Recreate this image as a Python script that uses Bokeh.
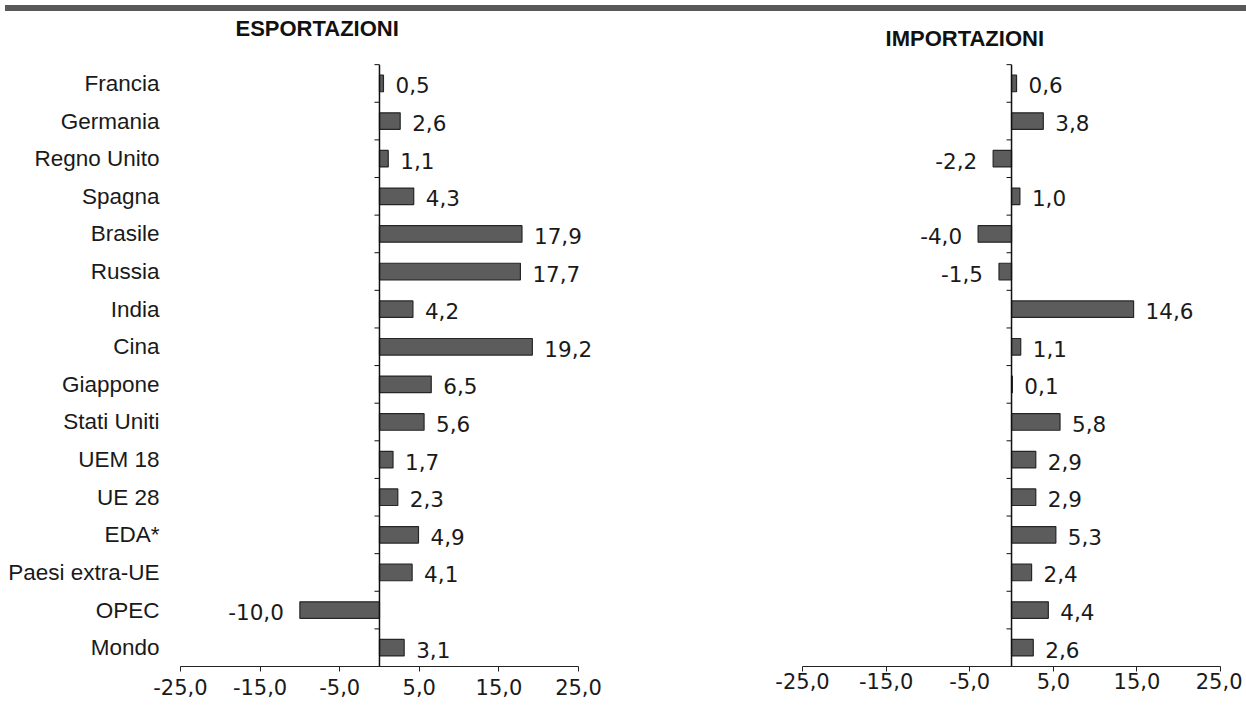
from bokeh.plotting import figure
from bokeh.models import Range1d, FixedTicker, ColumnDataSource, Div
from bokeh.layouts import row, column
from bokeh.core.properties import value
from bokeh.embed import file_html
from bokeh.resources import INLINE

categories = ["Francia", "Germania", "Regno Unito", "Spagna", "Brasile", "Russia",
              "India", "Cina", "Giappone", "Stati Uniti", "UEM 18", "UE 28", "EDA*",
              "Paesi extra-UE", "OPEC", "Mondo"]
esportazioni = [0.5, 2.6, 1.1, 4.3, 17.9, 17.7, 4.2, 19.2, 6.5, 5.6, 1.7, 2.3, 4.9, 4.1, -10.0, 3.1]
importazioni = [0.6, 3.8, -2.2, 1.0, -4.0, -1.5, 14.6, 1.1, 0.1, 5.8, 2.9, 2.9, 5.3, 2.4, 4.4, 2.6]
x_ticks = [-25, -15, -5, 5, 15, 25]
x_tick_labels = ["-25,0", "-15,0", "-5,0", "5,0", "15,0", "25,0"]
titles = ["ESPORTAZIONI", "IMPORTAZIONI"]

N = len(categories)
ypos = [N - 1 - i for i in range(N)]

BAR_FILL = "#5c5c5c"
BAR_LINE = "#262626"
LAB_FONT = "DejaVu Sans"
CAT_FONT = "Liberation Sans"

Y_TOP = N - 1 + 1.78      # space above the rows for the panel titles
FIG_H = 689


def fmt(v):
    return f"{v:.1f}".replace(".", ",")


def make_panel(vals, title, width, xr, mb, px_per_unit, title_x_px, title_y,
               tick_standoff, show_cats):
    p = figure(width=width, height=FIG_H, x_range=Range1d(*xr), y_range=Range1d(-0.5, Y_TOP),
               output_backend="svg", toolbar_location=None,
               min_border_left=mb[0], min_border_right=mb[1], min_border_top=0,
               min_border_bottom=39)
    p.outline_line_color = None
    p.xgrid.visible = False
    p.ygrid.visible = False
    p.background_fill_color = "white"
    p.border_fill_color = "white"

    src = ColumnDataSource(dict(y=ypos, v=vals, lab=[fmt(v) for v in vals]))
    p.hbar(y="y", left=0, right="v", height=0.44, source=src,
           fill_color=BAR_FILL, line_color=BAR_LINE, line_width=1.2)

    pos = ColumnDataSource(dict(y=[y for y, v in zip(ypos, vals) if v >= 0],
                                v=[v for v in vals if v >= 0],
                                lab=[fmt(v) for v in vals if v >= 0]))
    neg = ColumnDataSource(dict(y=[y for y, v in zip(ypos, vals) if v < 0],
                                v=[v for v in vals if v < 0],
                                lab=[fmt(v) for v in vals if v < 0]))
    common = dict(text="lab", text_font=value(LAB_FONT), text_font_size="21.5px",
                  text_color="#1a1a1a", text_baseline="middle")
    p.text(x="v", y="y", source=pos, x_offset=12, y_offset=2, text_align="left", **common)
    p.text(x="v", y="y", source=neg, x_offset=-16, y_offset=2, text_align="right", **common)

    # vertical zero axis with small ticks between categories
    p.segment(x0=[0], x1=[0], y0=[-0.5], y1=[N - 0.5], line_color="#111111", line_width=1.5)
    tick_len = 5.0 / px_per_unit
    bnd = [k + 0.5 for k in range(-1, N)]
    p.segment(x0=[-tick_len] * len(bnd), x1=[0] * len(bnd), y0=bnd, y1=bnd,
              line_color="#111111", line_width=1)

    # panel title
    p.text(x=[title_x_px / px_per_unit], y=[title_y], text=[title],
           text_font=value(CAT_FONT), text_font_style="bold", text_font_size="22px",
           text_color="#111111", text_align="left", text_baseline="middle")

    xa = p.xaxis[0]
    xa.bounds = (x_ticks[0], x_ticks[-1])
    xa.ticker = FixedTicker(ticks=x_ticks)
    xa.major_label_overrides = {t: l for t, l in zip(x_ticks, x_tick_labels)}
    xa.minor_tick_line_color = None
    xa.major_tick_in = 0
    xa.major_tick_out = 5
    xa.axis_line_color = "#222222"
    xa.axis_line_width = 1.2
    xa.major_tick_line_color = "#222222"
    xa.major_label_text_font = LAB_FONT
    xa.major_label_text_font_size = "21px"
    xa.major_label_text_color = "#1a1a1a"
    xa.major_label_standoff = tick_standoff

    ya = p.yaxis[0]
    if show_cats:
        ya.ticker = FixedTicker(ticks=ypos)
        ya.major_label_overrides = {y: c for y, c in zip(ypos, categories)}
        ya.minor_tick_line_color = None
        ya.major_tick_line_color = None
        ya.major_tick_out = 0
        ya.major_tick_in = 0
        ya.axis_line_color = None
        ya.major_label_text_font = CAT_FONT
        ya.major_label_text_font_size = "22.5px"
        ya.major_label_text_color = "#1a1a1a"
        ya.major_label_standoff = 13
    else:
        ya.visible = False
    return p


# left panel: zero at page x~379, 7.96 px/unit
left = make_panel(esportazioni, titles[0], 615, (-26.0, 29.27), (172, 3), 7.96,
                  -144, N - 1 + 1.46, 7, True)
# right panel: zero at page x~1011, 8.36 px/unit
right = make_panel(importazioni, titles[1], 627, (-26.44, 26.91), (175, 6), 8.36,
                   -126, N - 1 + 1.2, 1, False)

banner = Div(text="", width=1242, height=6,
             styles={"background-color": "#595959"})
layout = column(banner, row(left, right, spacing=0), spacing=0)

open("out.html", "w").write(file_html(layout, INLINE))
